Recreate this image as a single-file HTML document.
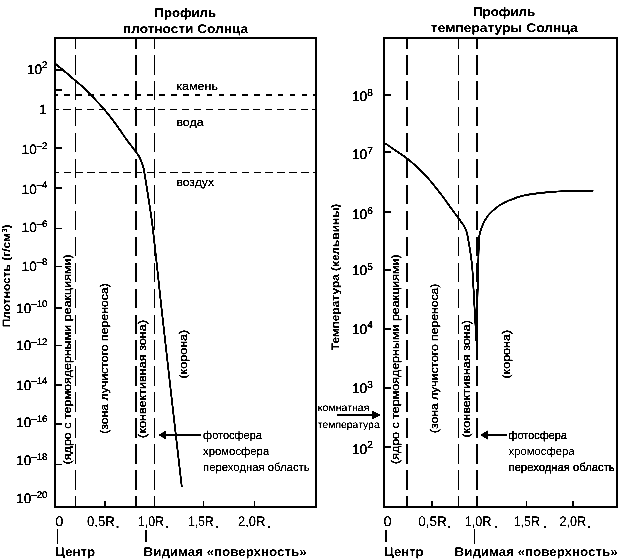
<!DOCTYPE html>
<html lang="ru"><head><meta charset="utf-8"><title>Профили плотности и температуры Солнца</title>
<style>
html,body{margin:0;padding:0;background:#fff;overflow:hidden;}
svg{display:block;font-family:"Liberation Sans", sans-serif;fill:#000;will-change:transform;filter:grayscale(1) contrast(5);}
text{text-rendering:geometricPrecision;}
</style></head><body>
<svg width="618" height="560" viewBox="0 0 618 560">
<rect width="618" height="560" fill="#fff"/>
<rect x="55" y="38" width="261" height="469" fill="none" stroke="#000" stroke-width="2" shape-rendering="crispEdges"/>
<rect x="384" y="38" width="233" height="469" fill="none" stroke="#000" stroke-width="2" shape-rendering="crispEdges"/>
<line x1="55" y1="70.3" x2="62" y2="70.3" stroke="#000" stroke-width="2" shape-rendering="crispEdges"/>
<line x1="55" y1="90" x2="62" y2="90" stroke="#000" stroke-width="2" shape-rendering="crispEdges"/>
<line x1="55" y1="148" x2="62" y2="148" stroke="#000" stroke-width="2" shape-rendering="crispEdges"/>
<line x1="55" y1="188" x2="62" y2="188" stroke="#000" stroke-width="2" shape-rendering="crispEdges"/>
<line x1="55" y1="228.5" x2="62" y2="228.5" stroke="#000" stroke-width="1" shape-rendering="crispEdges"/>
<line x1="55" y1="266.5" x2="62" y2="266.5" stroke="#000" stroke-width="1" shape-rendering="crispEdges"/>
<line x1="55" y1="307.5" x2="62" y2="307.5" stroke="#000" stroke-width="2" shape-rendering="crispEdges"/>
<line x1="55" y1="345.5" x2="62" y2="345.5" stroke="#000" stroke-width="1" shape-rendering="crispEdges"/>
<line x1="55" y1="384.8" x2="62" y2="384.8" stroke="#000" stroke-width="2" shape-rendering="crispEdges"/>
<line x1="55" y1="424.2" x2="62" y2="424.2" stroke="#000" stroke-width="2" shape-rendering="crispEdges"/>
<line x1="55" y1="464.5" x2="62" y2="464.5" stroke="#000" stroke-width="1" shape-rendering="crispEdges"/>
<text x="47.4" y="73.5" font-size="13.6" font-weight="normal" text-anchor="end" stroke="#000" stroke-width="0.3">10<tspan dy="-5.2" font-size="9.6">2</tspan></text>
<text x="46.8" y="114.2" font-size="13.6" font-weight="normal" text-anchor="end" stroke="#000" stroke-width="0.3">1</text>
<text x="47.4" y="153.8" font-size="13.6" font-weight="normal" text-anchor="end" stroke="#000" stroke-width="0.3">10<tspan dy="-5.2" font-size="9.6">–2</tspan></text>
<text x="47.4" y="193.5" font-size="13.6" font-weight="normal" text-anchor="end" stroke="#000" stroke-width="0.3">10<tspan dy="-5.2" font-size="9.6">–4</tspan></text>
<text x="47.4" y="232.1" font-size="13.6" font-weight="normal" text-anchor="end" stroke="#000" stroke-width="0.3">10<tspan dy="-5.2" font-size="9.6">–6</tspan></text>
<text x="47.4" y="270.5" font-size="13.6" font-weight="normal" text-anchor="end" stroke="#000" stroke-width="0.3">10<tspan dy="-5.2" font-size="9.6">–8</tspan></text>
<text x="47.4" y="312.5" font-size="13.6" font-weight="normal" text-anchor="end" stroke="#000" stroke-width="0.3">10<tspan dy="-5.2" font-size="9.6">–10</tspan></text>
<text x="47.4" y="350.0" font-size="13.6" font-weight="normal" text-anchor="end" stroke="#000" stroke-width="0.3">10<tspan dy="-5.2" font-size="9.6">–12</tspan></text>
<text x="47.4" y="389.5" font-size="13.6" font-weight="normal" text-anchor="end" stroke="#000" stroke-width="0.3">10<tspan dy="-5.2" font-size="9.6">–14</tspan></text>
<text x="47.4" y="427.2" font-size="13.6" font-weight="normal" text-anchor="end" stroke="#000" stroke-width="0.3">10<tspan dy="-5.2" font-size="9.6">–16</tspan></text>
<text x="47.4" y="465.1" font-size="13.6" font-weight="normal" text-anchor="end" stroke="#000" stroke-width="0.3">10<tspan dy="-5.2" font-size="9.6">–18</tspan></text>
<text x="47.4" y="503.0" font-size="13.6" font-weight="normal" text-anchor="end" stroke="#000" stroke-width="0.3">10<tspan dy="-5.2" font-size="9.6">–20</tspan></text>
<line x1="75.5" y1="38" x2="75.5" y2="507" stroke="#000" stroke-width="1" stroke-dasharray="19.5 6.45" stroke-dashoffset="8.95" shape-rendering="crispEdges"/>
<line x1="136" y1="38" x2="136" y2="507" stroke="#000" stroke-width="2" stroke-dasharray="19.5 6.45" stroke-dashoffset="8.95" shape-rendering="crispEdges"/>
<line x1="154.5" y1="38" x2="154.5" y2="507" stroke="#000" stroke-width="1" stroke-dasharray="19.5 6.45" stroke-dashoffset="8.95" shape-rendering="crispEdges"/>
<line x1="55" y1="94.8" x2="316" y2="94.8" stroke="#000" stroke-width="2" stroke-dasharray="5.6 6.27" stroke-dashoffset="2.67" shape-rendering="crispEdges"/>
<line x1="55" y1="109.5" x2="316" y2="109.5" stroke="#000" stroke-width="1" stroke-dasharray="7.3 4.57" stroke-dashoffset="3.67" shape-rendering="crispEdges"/>
<line x1="55" y1="172.5" x2="316" y2="172.5" stroke="#000" stroke-width="1" stroke-dasharray="7.6 4.27" stroke-dashoffset="3.27" shape-rendering="crispEdges"/>
<line x1="105" y1="507" x2="105" y2="500.5" stroke="#000" stroke-width="1.2" shape-rendering="crispEdges"/>
<line x1="154.5" y1="507" x2="154.5" y2="500.5" stroke="#000" stroke-width="1.2" shape-rendering="crispEdges"/>
<line x1="203.6" y1="507" x2="203.6" y2="500.5" stroke="#000" stroke-width="1.2" shape-rendering="crispEdges"/>
<line x1="254.6" y1="507" x2="254.6" y2="500.5" stroke="#000" stroke-width="1.2" shape-rendering="crispEdges"/>
<path d="M55.8 64 C56.50 64.60 58.35 66.22 60 67.6 C61.65 68.98 63.12 70.12 65.7 72.3 C68.28 74.48 72.55 78.17 75.5 80.7 C78.45 83.23 80.93 85.22 83.4 87.5 C85.87 89.78 88.00 92.05 90.3 94.4 C92.60 96.75 94.92 99.15 97.2 101.6 C99.48 104.05 101.72 106.43 104 109.1 C106.28 111.77 108.60 114.63 110.9 117.6 C113.20 120.57 115.18 123.23 117.8 126.9 C120.42 130.57 124.35 136.45 126.6 139.6 C128.85 142.75 129.82 143.85 131.3 145.8 C132.78 147.75 134.25 149.60 135.5 151.3 C136.75 153.00 137.80 154.25 138.8 156 C139.80 157.75 140.73 159.88 141.5 161.8 C142.27 163.72 142.88 165.47 143.4 167.5 C143.92 169.53 144.05 170.75 144.6 174 C145.15 177.25 146.05 182.92 146.7 187 C147.35 191.08 147.80 194.00 148.5 198.5 C149.20 203.00 150.18 209.02 150.9 214 C151.62 218.98 151.93 221.07 152.8 228.4 C153.67 235.73 154.62 244.40 156.1 258 C157.58 271.60 159.27 288.00 161.7 310 C164.13 332.00 167.35 360.50 170.7 390 C174.05 419.50 179.95 470.83 181.8 487" fill="none" stroke="#000" stroke-width="1.9" stroke-linejoin="round"/>
<line x1="384" y1="94.8" x2="391" y2="94.8" stroke="#000" stroke-width="2" shape-rendering="crispEdges"/>
<text x="372.8" y="101.2" font-size="13.8" font-weight="normal" text-anchor="end" stroke="#000" stroke-width="0.35">10<tspan dy="-5.2" font-size="10">8</tspan></text>
<line x1="384" y1="152" x2="391" y2="152" stroke="#000" stroke-width="2" shape-rendering="crispEdges"/>
<text x="372.8" y="158.8" font-size="13.8" font-weight="normal" text-anchor="end" stroke="#000" stroke-width="0.35">10<tspan dy="-5.2" font-size="10">7</tspan></text>
<line x1="384" y1="211.6" x2="391" y2="211.6" stroke="#000" stroke-width="2" shape-rendering="crispEdges"/>
<text x="372.8" y="218.9" font-size="13.8" font-weight="normal" text-anchor="end" stroke="#000" stroke-width="0.35">10<tspan dy="-5.2" font-size="10">6</tspan></text>
<line x1="384" y1="269.8" x2="391" y2="269.8" stroke="#000" stroke-width="2" shape-rendering="crispEdges"/>
<text x="372.8" y="274.8" font-size="13.8" font-weight="normal" text-anchor="end" stroke="#000" stroke-width="0.35">10<tspan dy="-5.2" font-size="10">5</tspan></text>
<line x1="384" y1="329.2" x2="391" y2="329.2" stroke="#000" stroke-width="2" shape-rendering="crispEdges"/>
<text x="372.8" y="333.59999999999997" font-size="13.8" font-weight="normal" text-anchor="end" stroke="#000" stroke-width="0.35">10<tspan dy="-5.2" font-size="10">4</tspan></text>
<line x1="384" y1="387.7" x2="391" y2="387.7" stroke="#000" stroke-width="2" shape-rendering="crispEdges"/>
<text x="372.8" y="393.0" font-size="13.8" font-weight="normal" text-anchor="end" stroke="#000" stroke-width="0.35">10<tspan dy="-5.2" font-size="10">3</tspan></text>
<line x1="384" y1="446.8" x2="391" y2="446.8" stroke="#000" stroke-width="2" shape-rendering="crispEdges"/>
<text x="372.8" y="453.5" font-size="13.8" font-weight="normal" text-anchor="end" stroke="#000" stroke-width="0.35">10<tspan dy="-5.2" font-size="10">2</tspan></text>
<line x1="407" y1="38" x2="407" y2="507" stroke="#000" stroke-width="2" stroke-dasharray="19.5 6.45" stroke-dashoffset="8.95" shape-rendering="crispEdges"/>
<line x1="458.5" y1="38" x2="458.5" y2="507" stroke="#000" stroke-width="1" stroke-dasharray="19.5 6.45" stroke-dashoffset="8.95" shape-rendering="crispEdges"/>
<line x1="477" y1="38" x2="477" y2="507" stroke="#000" stroke-width="2" stroke-dasharray="19.5 6.45" stroke-dashoffset="8.95" shape-rendering="crispEdges"/>
<line x1="431.9" y1="507" x2="431.9" y2="500.5" stroke="#000" stroke-width="1.2" shape-rendering="crispEdges"/>
<line x1="477" y1="507" x2="477" y2="500.5" stroke="#000" stroke-width="1.2" shape-rendering="crispEdges"/>
<line x1="526.6" y1="507" x2="526.6" y2="500.5" stroke="#000" stroke-width="1.2" shape-rendering="crispEdges"/>
<line x1="573" y1="507" x2="573" y2="500.5" stroke="#000" stroke-width="1.2" shape-rendering="crispEdges"/>
<path d="M385 143.2 C386.78 144.43 392.02 148.05 395.7 150.6 C399.38 153.15 403.50 155.72 407.1 158.5 C410.70 161.28 414.12 164.35 417.3 167.3 C420.48 170.25 423.25 172.98 426.2 176.2 C429.15 179.42 432.22 183.17 435 186.6 C437.78 190.03 440.28 193.30 442.9 196.8 C445.52 200.30 448.08 204.00 450.7 207.6 C453.32 211.20 456.72 215.83 458.6 218.4 C460.48 220.97 460.97 221.50 462 223 C463.03 224.50 464.03 225.93 464.8 227.4 C465.57 228.87 466.12 230.28 466.6 231.8 C467.08 233.32 467.32 234.55 467.7 236.5 C468.08 238.45 468.45 240.83 468.9 243.5 C469.35 246.17 469.85 248.58 470.4 252.5 C470.95 256.42 471.68 260.98 472.2 267 C472.72 273.02 473.05 280.72 473.5 288.6 C473.95 296.48 474.55 307.90 474.9 314.3 C475.25 320.70 475.35 322.55 475.6 327 C475.85 331.45 476.27 338.67 476.4 341" fill="none" stroke="#000" stroke-width="1.9" stroke-linejoin="round"/>
<path d="M476.6 341 C476.67 337.83 476.87 328.83 477.0 322 C477.13 315.17 477.23 307.83 477.4 300 C477.57 292.17 477.82 282.62 478 275 C478.18 267.38 478.32 260.38 478.5 254.3 C478.68 248.22 478.87 242.05 479.1 238.5 C479.33 234.95 479.53 234.60 479.9 233 C480.27 231.40 480.73 230.48 481.3 228.9 C481.87 227.32 482.53 225.20 483.3 223.5 C484.07 221.80 484.95 220.23 485.9 218.7 C486.85 217.17 487.87 215.62 489 214.3 C490.13 212.98 491.37 211.98 492.7 210.8 C494.03 209.62 495.50 208.33 497 207.2 C498.50 206.07 500.03 204.98 501.7 204 C503.37 203.02 505.12 202.13 507 201.3 C508.88 200.47 511.08 199.72 513 199 C514.92 198.28 516.60 197.60 518.5 197 C520.40 196.40 522.32 195.87 524.4 195.4 C526.48 194.93 528.73 194.55 531 194.2 C533.27 193.85 534.57 193.67 538 193.3 C541.43 192.93 547.07 192.37 551.6 192 C556.13 191.63 560.68 191.30 565.2 191.1 C569.72 190.90 573.98 190.85 578.7 190.8 C583.42 190.75 591.03 190.80 593.5 190.8" fill="none" stroke="#000" stroke-width="1.9" stroke-linejoin="round"/>
<text x="154.6" y="16.5" font-size="12.6" font-weight="bold" text-anchor="start" stroke="#000" stroke-width="0.1" textLength="61.4" lengthAdjust="spacingAndGlyphs">Профиль</text>
<text x="123" y="32.9" font-size="12.6" font-weight="bold" text-anchor="start" stroke="#000" stroke-width="0.1" textLength="125" lengthAdjust="spacingAndGlyphs">плотности Солнца</text>
<text x="473" y="16.3" font-size="12.6" font-weight="bold" text-anchor="start" stroke="#000" stroke-width="0.1" textLength="62.2" lengthAdjust="spacingAndGlyphs">Профиль</text>
<text x="430.9" y="32.0" font-size="12.6" font-weight="bold" text-anchor="start" stroke="#000" stroke-width="0.1" textLength="146.8" lengthAdjust="spacingAndGlyphs">температуры Солнца</text>
<text x="10.2" y="327.3" font-size="10.8" font-weight="bold" text-anchor="start" stroke="#000" stroke-width="0.1" transform="rotate(-90 10.2 327.3)" textLength="102.8" lengthAdjust="spacingAndGlyphs">Плотность (г/см<tspan dy="-3.3" font-size="7">3</tspan><tspan dy="3.3" font-size="10.8">)</tspan></text>
<text x="338.6" y="350.2" font-size="10.9" font-weight="bold" text-anchor="start" stroke="#000" stroke-width="0.1" transform="rotate(-90 338.6 350.2)" textLength="146.5" lengthAdjust="spacingAndGlyphs">Температура (кельвины)</text>
<text x="71.2" y="464.3" font-size="11.3" font-weight="normal" text-anchor="start" stroke="#000" stroke-width="0.3" transform="rotate(-90 71.2 464.3)" textLength="210" lengthAdjust="spacingAndGlyphs">(ядро с термоядерными реакциями)</text>
<text x="108.0" y="433.8" font-size="11.3" font-weight="normal" text-anchor="start" stroke="#000" stroke-width="0.3" transform="rotate(-90 108.0 433.8)" textLength="150.6" lengthAdjust="spacingAndGlyphs">(зона лучистого переноса)</text>
<text x="146.3" y="437.9" font-size="11.3" font-weight="normal" text-anchor="start" stroke="#000" stroke-width="0.3" transform="rotate(-90 146.3 437.9)" textLength="118" lengthAdjust="spacingAndGlyphs">(конвективная зона)</text>
<text x="186.8" y="378.6" font-size="11.3" font-weight="normal" text-anchor="start" stroke="#000" stroke-width="0.3" transform="rotate(-90 186.8 378.6)" textLength="48.9" lengthAdjust="spacingAndGlyphs">(корона)</text>
<text x="399.1" y="464" font-size="11.3" font-weight="normal" text-anchor="start" stroke="#000" stroke-width="0.3" transform="rotate(-90 399.1 464)" textLength="209.7" lengthAdjust="spacingAndGlyphs">(ядро с термоядерными реакциями)</text>
<text x="437.8" y="433.1" font-size="11.3" font-weight="normal" text-anchor="start" stroke="#000" stroke-width="0.3" transform="rotate(-90 437.8 433.1)" textLength="149.5" lengthAdjust="spacingAndGlyphs">(зона лучистого переноса)</text>
<text x="470.4" y="437.6" font-size="11.3" font-weight="normal" text-anchor="start" stroke="#000" stroke-width="0.3" transform="rotate(-90 470.4 437.6)" textLength="117.6" lengthAdjust="spacingAndGlyphs">(конвективная зона)</text>
<text x="510" y="378.6" font-size="11.3" font-weight="normal" text-anchor="start" stroke="#000" stroke-width="0.3" transform="rotate(-90 510 378.6)" textLength="48.7" lengthAdjust="spacingAndGlyphs">(корона)</text>
<text x="176.4" y="90.3" font-size="11.5" font-weight="normal" text-anchor="start" stroke="#000" stroke-width="0.15" textLength="41.5" lengthAdjust="spacingAndGlyphs">камень</text>
<text x="176.4" y="125.9" font-size="11.5" font-weight="normal" text-anchor="start" stroke="#000" stroke-width="0.15" textLength="27.2" lengthAdjust="spacingAndGlyphs">вода</text>
<text x="176.4" y="185.7" font-size="11.5" font-weight="normal" text-anchor="start" stroke="#000" stroke-width="0.15" textLength="37.6" lengthAdjust="spacingAndGlyphs">воздух</text>
<text x="203.1" y="439.1" font-size="11.5" font-weight="normal" text-anchor="start" stroke="#000" stroke-width="0.15" textLength="58.8" lengthAdjust="spacingAndGlyphs">фотосфера</text>
<text x="203.1" y="455.4" font-size="11.5" font-weight="normal" text-anchor="start" stroke="#000" stroke-width="0.15" textLength="66.1" lengthAdjust="spacingAndGlyphs">хромосфера</text>
<text x="203.1" y="471.4" font-size="11.5" font-weight="normal" text-anchor="start" stroke="#000" stroke-width="0.15" textLength="106.5" lengthAdjust="spacingAndGlyphs">переходная область</text>
<line x1="200.5" y1="435" x2="164.3" y2="435" stroke="#000" stroke-width="2" shape-rendering="crispEdges"/>
<path d="M158.3 435 L166.3 430.3 L166.3 439.7 Z" fill="#000"/>
<text x="508.5" y="438.6" font-size="11.5" font-weight="normal" text-anchor="start" stroke="#000" stroke-width="0.32" textLength="58.3" lengthAdjust="spacingAndGlyphs">фотосфера</text>
<text x="508.5" y="455" font-size="11.5" font-weight="normal" text-anchor="start" stroke="#000" stroke-width="0.05" textLength="66.1" lengthAdjust="spacingAndGlyphs">хромосфера</text>
<text x="508.5" y="471" font-size="11.5" font-weight="normal" text-anchor="start" stroke="#000" stroke-width="0.35" textLength="106.2" lengthAdjust="spacingAndGlyphs">переходная область</text>
<line x1="507.2" y1="435" x2="486" y2="435" stroke="#000" stroke-width="2" shape-rendering="crispEdges"/>
<path d="M480 435 L488 430.3 L488 439.7 Z" fill="#000"/>
<text x="317.8" y="411.1" font-size="10.4" font-weight="normal" text-anchor="start" stroke="#000" stroke-width="0.15" textLength="51.6" lengthAdjust="spacingAndGlyphs">комнатная</text>
<text x="317.8" y="427.9" font-size="10.4" font-weight="normal" text-anchor="start" stroke="#000" stroke-width="0.15" textLength="61.9" lengthAdjust="spacingAndGlyphs">температура</text>
<line x1="337" y1="415" x2="375" y2="415" stroke="#000" stroke-width="2" shape-rendering="crispEdges"/>
<path d="M380.9 415 L372 410.6 L372 419.4 Z" fill="#000"/>
<text x="55.2" y="526" font-size="14" font-weight="normal" text-anchor="start" stroke="#000" stroke-width="0.15" textLength="8.2" lengthAdjust="spacingAndGlyphs">0</text>
<text x="87" y="526" font-size="14" font-weight="normal" text-anchor="start" stroke="#000" stroke-width="0.15" textLength="27.9" lengthAdjust="spacingAndGlyphs">0,5<tspan stroke-width="0.3">R</tspan></text>
<text x="116.3" y="528.3" font-size="2.8" font-weight="normal" text-anchor="start" stroke="#000" stroke-width="0.4">☉</text>
<text x="137.8" y="526" font-size="14" font-weight="normal" text-anchor="start" stroke="#000" stroke-width="0.15" textLength="26.2" lengthAdjust="spacingAndGlyphs">1,0<tspan stroke-width="0.3">R</tspan></text>
<text x="166.0" y="528.3" font-size="2.8" font-weight="normal" text-anchor="start" stroke="#000" stroke-width="0.4">☉</text>
<text x="188.3" y="526" font-size="14" font-weight="normal" text-anchor="start" stroke="#000" stroke-width="0.15" textLength="25.4" lengthAdjust="spacingAndGlyphs">1,5<tspan stroke-width="0.3">R</tspan></text>
<text x="216.0" y="528.3" font-size="2.8" font-weight="normal" text-anchor="start" stroke="#000" stroke-width="0.4">☉</text>
<text x="238" y="526" font-size="14" font-weight="normal" text-anchor="start" stroke="#000" stroke-width="0.15" textLength="27.4" lengthAdjust="spacingAndGlyphs">2,0<tspan stroke-width="0.3">R</tspan></text>
<text x="267.40000000000003" y="528.3" font-size="2.8" font-weight="normal" text-anchor="start" stroke="#000" stroke-width="0.4">☉</text>
<text x="383.4" y="526" font-size="14" font-weight="normal" text-anchor="start" stroke="#000" stroke-width="0.15" textLength="8.2" lengthAdjust="spacingAndGlyphs">0</text>
<text x="418.3" y="526" font-size="14" font-weight="normal" text-anchor="start" stroke="#000" stroke-width="0.15" textLength="28.6" lengthAdjust="spacingAndGlyphs">0,5<tspan stroke-width="0.3">R</tspan></text>
<text x="448.1" y="528.3" font-size="2.8" font-weight="normal" text-anchor="start" stroke="#000" stroke-width="0.4">☉</text>
<text x="464.7" y="526" font-size="14" font-weight="normal" text-anchor="start" stroke="#000" stroke-width="0.15" textLength="26.7" lengthAdjust="spacingAndGlyphs">1,0<tspan stroke-width="0.3">R</tspan></text>
<text x="494.90000000000003" y="528.3" font-size="2.8" font-weight="normal" text-anchor="start" stroke="#000" stroke-width="0.4">☉</text>
<text x="513.7" y="526" font-size="14" font-weight="normal" text-anchor="start" stroke="#000" stroke-width="0.15" textLength="26.3" lengthAdjust="spacingAndGlyphs">1,5<tspan stroke-width="0.3">R</tspan></text>
<text x="543.4" y="528.3" font-size="2.8" font-weight="normal" text-anchor="start" stroke="#000" stroke-width="0.4">☉</text>
<text x="559.4" y="526" font-size="14" font-weight="normal" text-anchor="start" stroke="#000" stroke-width="0.15" textLength="26.7" lengthAdjust="spacingAndGlyphs">2,0<tspan stroke-width="0.3">R</tspan></text>
<text x="587.6" y="528.3" font-size="2.8" font-weight="normal" text-anchor="start" stroke="#000" stroke-width="0.4">☉</text>
<line x1="57.5" y1="528.5" x2="57.5" y2="543.5" stroke="#000" stroke-width="1" shape-rendering="crispEdges"/>
<line x1="146" y1="529.5" x2="146" y2="542" stroke="#000" stroke-width="2" shape-rendering="crispEdges"/>
<line x1="386" y1="530" x2="386" y2="542" stroke="#000" stroke-width="2" shape-rendering="crispEdges"/>
<line x1="474.5" y1="529" x2="474.5" y2="544" stroke="#000" stroke-width="1" shape-rendering="crispEdges"/>
<text x="55.3" y="556.4" font-size="12.6" font-weight="bold" text-anchor="start" stroke="#000" stroke-width="0" textLength="39.9" lengthAdjust="spacingAndGlyphs">Центр</text>
<text x="143.6" y="556.4" font-size="12.6" font-weight="bold" text-anchor="start" stroke="#000" stroke-width="0" textLength="163" lengthAdjust="spacingAndGlyphs">Видимая «поверхность»</text>
<text x="384.2" y="556.4" font-size="12.6" font-weight="bold" text-anchor="start" stroke="#000" stroke-width="0" textLength="39.4" lengthAdjust="spacingAndGlyphs">Центр</text>
<text x="454.6" y="556.4" font-size="12.6" font-weight="bold" text-anchor="start" stroke="#000" stroke-width="0" textLength="163" lengthAdjust="spacingAndGlyphs">Видимая «поверхность»</text>
</svg>
</body></html>
